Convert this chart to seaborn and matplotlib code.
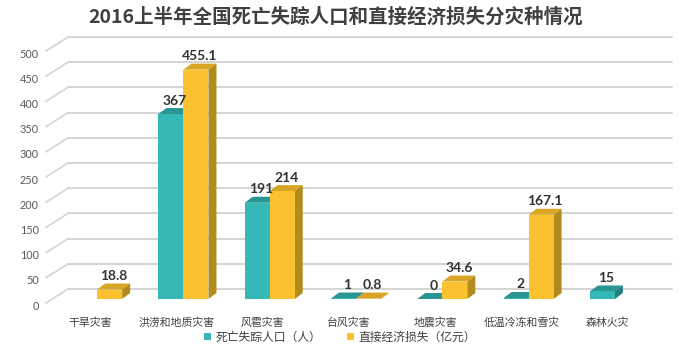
import numpy as np
import pandas as pd
import matplotlib
matplotlib.use("Agg")
import matplotlib.pyplot as plt
from matplotlib.transforms import ScaledTranslation
from matplotlib.patches import Polygon
import seaborn as sns

# ---- data ----
categories = ["干旱灾害", "洪涝和地质灾害", "风雹灾害", "台风灾害", "地震灾害", "低温冷冻和雪灾", "森林火灾"]
deaths = [np.nan, 367, 191, 1, 0, 2, 15]
losses = [18.8, 455.1, 214, 0.8, 34.6, 167.1, np.nan]
series_names = ["死亡失踪人口（人）", "直接经济损失（亿元）"]
yticks = list(range(0, 501, 50))
title = "2016上半年全国死亡失踪人口和直接经济损失分灾种情况"

df = pd.DataFrame({
    "cat": categories * 2,
    "series": [series_names[0]] * len(categories) + [series_names[1]] * len(categories),
    "value": deaths + losses,
})

sns.set_style("white")
plt.rcParams["font.family"] = ["Noto Sans CJK SC", "DejaVu Sans"]

colors_front = ["#35B8B6", "#FBC12F"]
colors_top = ["#2A9694", "#D8A524"]
colors_side = ["#1F7E7C", "#B38B1C"]

fig = plt.figure(figsize=(6.86, 3.55), dpi=100)
ax = fig.add_axes([54 / 686, 56 / 355, 604 / 686, 252 / 355])

sns.barplot(data=df, x="cat", y="value", hue="series", hue_order=series_names,
            palette=colors_front, width=0.58, gap=0, errorbar=None, legend=False,
            linewidth=0, saturation=1, ax=ax, zorder=2)

ax.set_xlim(-0.5, 6.5)
ax.set_ylim(0, 500)
for s in ax.spines.values():
    s.set_visible(False)
ax.set_xlabel("")
ax.set_ylabel("")

px_y = 500 / 252.0  # data units per pixel (y)
px_x = 7 / 604.0    # data units per pixel (x)
dx = 8 * px_x
dy = 6 * px_y

# back-wall gridlines and floor diagonals
ytr = ax.get_yaxis_transform()
for v in yticks:
    ax.plot([(68 - 54) / 604, (672 - 54) / 604], [v + 10 * px_y] * 2, transform=ytr,
            color="#D4D4D4", lw=1.4, zorder=0.5, clip_on=False)
    ax.plot([(46 - 54) / 604, (68 - 54) / 604], [v - 4 * px_y, v + 10 * px_y], transform=ytr,
            color="#D4D4D4", lw=1.2, zorder=0.5, clip_on=False)

ax.set_yticks(yticks)
ax.set_yticklabels([str(v) for v in yticks])
ax.tick_params(axis="y", length=0, pad=11, labelsize=7.8, labelcolor="#595959")
ax.tick_params(axis="x", length=0, pad=13, labelsize=7.8, labelcolor="#404040")
off_y = ScaledTranslation(0, -6 / 100, fig.dpi_scale_trans)
for lab in ax.get_yticklabels():
    lab.set_transform(lab.get_transform() + off_y)
    lab.set_fontfamily(["Lato", "DejaVu Sans"])
off_x = ScaledTranslation(-7 / 100, 0, fig.dpi_scale_trans)
for lab in ax.get_xticklabels():
    lab.set_transform(lab.get_transform() + off_x)

# 3D faces and value labels
for i, cont in enumerate(ax.containers):
    for p in cont.patches:
        h = p.get_height()
        if h is None or np.isnan(h):
            continue
        x0, w = p.get_x(), p.get_width()
        top = Polygon([(x0, h), (x0 + w, h), (x0 + w + dx, h + dy), (x0 + dx, h + dy)],
                      closed=True, facecolor=colors_top[i], edgecolor="none", zorder=1.5,
                      clip_on=False)
        side = Polygon([(x0 + w, 0), (x0 + w + dx, dy), (x0 + w + dx, h + dy), (x0 + w, h)],
                       closed=True, facecolor=colors_side[i], edgecolor="none", zorder=1.5,
                       clip_on=False)
        ax.add_patch(top)
        ax.add_patch(side)
        ax.text(x0 + w / 2 + dx / 2, h + dy + 1.5 * px_y, f"{h:g}", ha="center", va="bottom",
                fontsize=10, fontweight="bold", color="#333333",
                fontfamily=["Lato", "DejaVu Sans"], zorder=3, clip_on=False)

# legend
leg = ax.legend(ax.containers, series_names, loc="center",
                bbox_to_anchor=(340 / 686, 1 - 337 / 355), bbox_transform=fig.transFigure,
                ncol=2, frameon=False, fontsize=8.5, handlelength=0.6, handleheight=0.6,
                handletextpad=0.4, columnspacing=2.2)
for t in leg.get_texts():
    t.set_color("#404040")

fig.text(336 / 686, 1 - 17 / 355, title, ha="center", va="center", fontsize=14,
         fontweight="bold", color="#404040")

fig.savefig("out.png", dpi=100)
